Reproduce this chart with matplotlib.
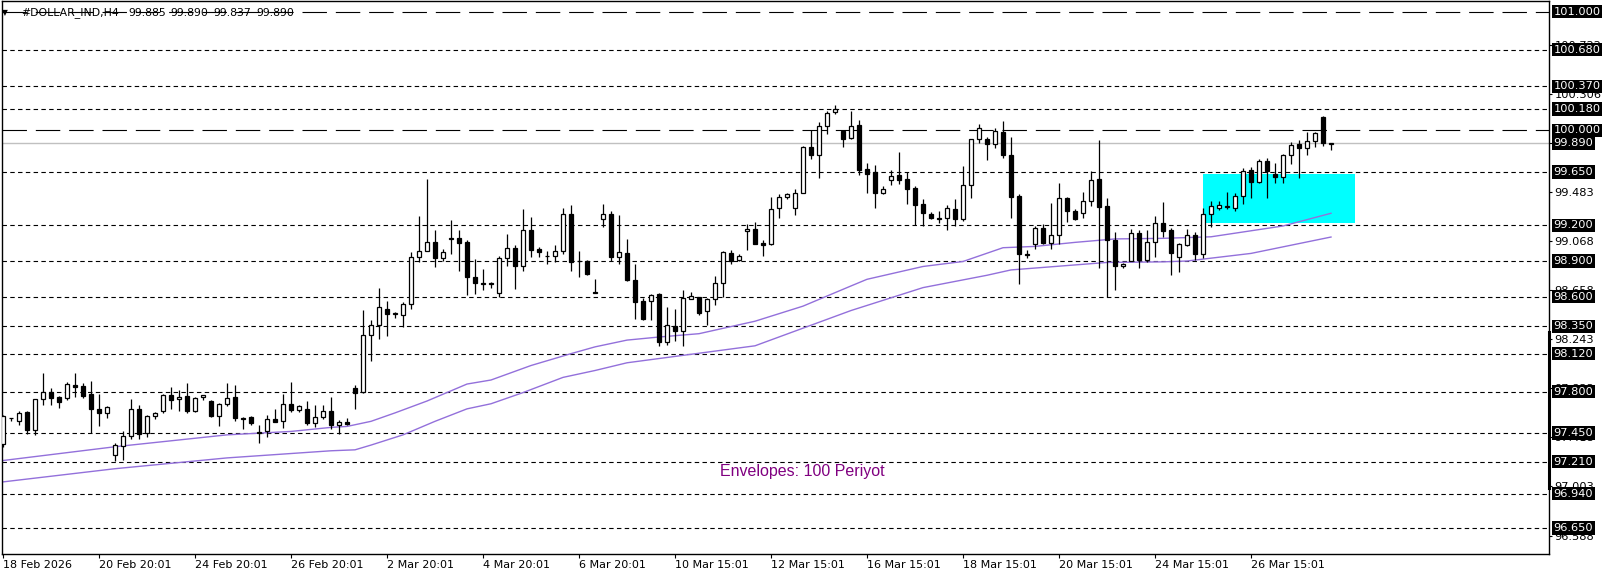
import numpy as np
import matplotlib.pyplot as plt
from matplotlib.patches import Rectangle

# =============================================================================
# DATA (H4 candles)
# =============================================================================
opens = [97.359, 97.579, 97.556, 97.627, 97.476, 97.735, 97.795, 97.755, 97.750, 97.858,
         97.849, 97.778, 97.658, 97.621, 97.265, 97.342, 97.427, 97.650, 97.450, 97.598,
         97.641, 97.770, 97.735, 97.761, 97.641, 97.752, 97.721, 97.593, 97.693, 97.752,
         97.581, 97.584, 97.457, 97.470, 97.573, 97.556, 97.695, 97.644, 97.650, 97.536,
         97.590, 97.633, 97.521, 97.547, 97.829, 97.795, 98.280, 98.364, 98.498, 98.453,
         98.448, 98.540, 98.932, 98.986, 99.061, 98.924, 99.087, 99.095, 99.064, 98.767,
         98.712, 98.719, 98.633, 98.927, 99.011, 98.857, 99.162, 99.002, 98.942, 98.941,
         98.986, 99.300, 98.904, 98.904, 98.636, 99.255, 99.300, 98.938, 98.970, 98.738,
         98.560, 98.560, 98.619, 98.217, 98.353, 98.313, 98.580, 98.594, 98.478, 98.577,
         98.712, 98.967, 98.905, 99.153, 99.170, 99.052, 99.043, 99.349, 99.442, 99.349,
         99.476, 99.858, 99.790, 100.033, 100.157, 99.996, 99.934, 100.044, 99.674, 99.651,
         99.476, 99.586, 99.623, 99.589, 99.513, 99.377, 99.300, 99.264, 99.264, 99.340,
         99.252, 99.544, 99.925, 99.925, 99.883, 99.985, 99.790, 99.450, 98.955, 99.043,
         99.179, 99.052, 99.120, 99.433, 99.323, 99.306, 99.408, 99.589, 99.360, 99.080,
         98.854, 98.899, 99.139, 98.907, 99.063, 99.217, 99.161, 98.935, 99.034, 99.116,
         98.961, 99.293, 99.348, 99.357, 99.348, 99.448, 99.670, 99.569, 99.746, 99.631,
         99.611, 99.792, 99.887, 99.848, 99.910, 100.113, 99.885]
highs = [97.600, 97.581, 97.641, 97.633, 97.735, 97.958, 97.832, 97.761, 97.878, 97.958,
         97.872, 97.892, 97.778, 97.678, 97.367, 97.465, 97.735, 97.687, 97.607, 97.627,
         97.784, 97.841, 97.812, 97.872, 97.755, 97.775, 97.727, 97.707, 97.872, 97.852,
         97.587, 97.593, 97.522, 97.607, 97.658, 97.778, 97.881, 97.684, 97.721, 97.687,
         97.687, 97.755, 97.558, 97.581, 97.858, 98.484, 98.400, 98.669, 98.565, 98.470,
         98.554, 98.980, 99.283, 99.594, 99.165, 99.000, 99.246, 99.165, 99.078, 98.913,
         98.829, 98.725, 98.944, 99.129, 99.039, 99.339, 99.274, 99.016, 98.983, 99.039,
         99.350, 99.370, 98.988, 98.910, 98.745, 99.383, 99.317, 99.284, 99.085, 98.874,
         98.588, 98.625, 98.630, 98.512, 98.492, 98.656, 98.636, 98.600, 98.591, 98.775,
         98.984, 98.992, 98.958, 99.213, 99.227, 99.080, 99.436, 99.462, 99.473, 99.510,
         99.869, 100.005, 100.067, 100.160, 100.217, 100.005, 100.160, 100.090, 99.722, 99.708,
         99.530, 99.663, 99.818, 99.646, 99.532, 99.419, 99.309, 99.323, 99.368, 99.419,
         99.702, 99.931, 100.050, 99.942, 100.024, 100.081, 99.945, 99.462, 98.995, 99.193,
         99.213, 99.391, 99.561, 99.440, 99.340, 99.484, 99.654, 99.920, 99.431, 99.148,
         98.882, 99.168, 99.162, 99.165, 99.275, 99.397, 99.175, 99.054, 99.169, 99.144,
         99.343, 99.405, 99.402, 99.482, 99.470, 99.682, 99.690, 99.755, 99.766, 99.727,
         99.803, 99.904, 99.921, 99.989, 99.983, 100.124, 99.890]
lows = [97.336, 97.556, 97.521, 97.447, 97.436, 97.684, 97.687, 97.664, 97.730, 97.758,
        97.750, 97.450, 97.510, 97.579, 97.220, 97.228, 97.402, 97.402, 97.419, 97.570,
        97.621, 97.655, 97.641, 97.618, 97.627, 97.732, 97.584, 97.510, 97.678, 97.550,
        97.487, 97.522, 97.365, 97.416, 97.544, 97.493, 97.630, 97.630, 97.522, 97.502,
        97.570, 97.487, 97.442, 97.521, 97.658, 97.787, 98.058, 98.243, 98.268, 98.420,
        98.344, 98.495, 98.890, 98.986, 98.848, 98.904, 98.960, 98.815, 98.613, 98.621,
        98.655, 98.669, 98.596, 98.854, 98.663, 98.815, 98.938, 98.938, 98.874, 98.890,
        98.958, 98.815, 98.764, 98.786, 98.630, 99.185, 98.896, 98.874, 98.730, 98.413,
        98.401, 98.401, 98.186, 98.195, 98.229, 98.186, 98.577, 98.444, 98.362, 98.531,
        98.593, 98.874, 98.902, 98.990, 99.040, 98.941, 99.032, 99.264, 99.425, 99.286,
        99.476, 99.756, 99.595, 99.968, 100.137, 99.863, 99.925, 99.623, 99.473, 99.346,
        99.467, 99.544, 99.552, 99.380, 99.207, 99.199, 99.250, 99.216, 99.159, 99.199,
        99.241, 99.431, 99.897, 99.747, 99.855, 99.764, 99.261, 98.704, 98.924, 98.999,
        99.040, 98.999, 99.046, 99.227, 99.244, 99.264, 99.360, 98.845, 98.594, 98.653,
        98.837, 98.899, 98.842, 98.888, 98.930, 99.104, 98.783, 98.809, 99.026, 98.907,
        98.927, 99.188, 99.331, 99.337, 99.320, 99.383, 99.434, 99.555, 99.434, 99.561,
        99.561, 99.721, 99.603, 99.789, 99.856, 99.865, 99.837]
closes = [97.593, 97.581, 97.624, 97.476, 97.735, 97.795, 97.750, 97.715, 97.864, 97.835,
          97.767, 97.658, 97.621, 97.670, 97.350, 97.430, 97.658, 97.447, 97.593, 97.618,
          97.770, 97.727, 97.752, 97.641, 97.744, 97.770, 97.598, 97.693, 97.744, 97.581,
          97.570, 97.536, 97.453, 97.573, 97.544, 97.693, 97.644, 97.675, 97.533, 97.590,
          97.633, 97.519, 97.547, 97.527, 97.792, 98.274, 98.364, 98.509, 98.453, 98.459,
          98.540, 98.935, 98.988, 99.061, 98.924, 98.977, 99.095, 99.050, 98.764, 98.714,
          98.706, 98.708, 98.927, 99.011, 98.857, 99.162, 98.990, 98.974, 98.940, 98.988,
          99.300, 98.893, 98.896, 98.789, 98.632, 99.300, 98.938, 98.975, 98.738, 98.558,
          98.413, 98.616, 98.217, 98.361, 98.313, 98.588, 98.608, 98.463, 98.580, 98.712,
          98.975, 98.902, 98.941, 99.170, 99.043, 99.032, 99.340, 99.439, 99.467, 99.476,
          99.858, 99.790, 100.033, 100.146, 100.183, 99.925, 100.036, 99.668, 99.634, 99.473,
          99.510, 99.620, 99.586, 99.507, 99.371, 99.306, 99.261, 99.258, 99.349, 99.255,
          99.544, 99.925, 100.016, 99.883, 99.996, 99.795, 99.442, 98.958, 98.950, 99.179,
          99.049, 99.120, 99.433, 99.320, 99.252, 99.408, 99.586, 99.354, 99.077, 98.854,
          98.876, 99.139, 98.907, 99.063, 99.216, 99.155, 98.969, 99.040, 99.116, 98.961,
          99.293, 99.360, 99.373, 99.363, 99.450, 99.662, 99.569, 99.746, 99.662, 99.611,
          99.792, 99.876, 99.848, 99.910, 99.977, 99.893, 99.890]

# Envelopes(100) lines, read at a few bars
env_upper_bar = [0, 14, 28, 36, 41, 43, 46, 49, 53, 58, 61, 66, 71, 74, 78, 82, 87, 94,
                 100, 106, 108, 115, 120, 125, 129, 134, 139, 145, 151, 160, 166]
env_upper = [97.220, 97.336, 97.436, 97.465, 97.499, 97.507, 97.550, 97.621, 97.721, 97.864,
             97.898, 98.020, 98.120, 98.177, 98.234, 98.260, 98.288, 98.393, 98.520, 98.690,
             98.746, 98.854, 98.896, 99.012, 99.023, 99.057, 99.086, 99.091, 99.104, 99.195,
             99.302]
env_lower_bar = [0, 14, 28, 41, 44, 46, 50, 54, 58, 61, 65, 70, 74, 78, 94, 106, 115, 123,
                 126, 138, 145, 148, 156, 166]
env_lower = [97.040, 97.151, 97.242, 97.302, 97.310, 97.350, 97.436, 97.550, 97.655, 97.698,
             97.792, 97.920, 97.978, 98.043, 98.186, 98.483, 98.676, 98.780, 98.825, 98.888,
             98.893, 98.900, 98.964, 99.102]

# horizontal levels
dash_levels = [101.000, 100.000]
dot_levels = [100.680, 100.370, 100.180, 99.650, 99.200, 98.900, 98.600, 98.350, 98.120,
              97.800, 97.450, 97.210, 96.940, 96.650]
bid_price = 99.890

# price scale ticks
price_ticks = [100.722, 100.306, 99.894, 99.483, 99.068, 98.658, 98.243, 97.833, 97.418,
               97.003, 96.588]

# time axis
time_tick_bars = [0, 12, 24, 36, 48, 60, 72, 84, 96, 108, 120, 132, 144, 156]
time_labels = ['18 Feb 2026', '20 Feb 20:01', '24 Feb 20:01', '26 Feb 20:01', '2 Mar 20:01',
               '4 Mar 20:01', '6 Mar 20:01', '10 Mar 15:01', '12 Mar 15:01', '16 Mar 15:01',
               '18 Mar 15:01', '20 Mar 15:01', '24 Mar 15:01', '26 Mar 15:01']

# cyan zone (bars, prices)
zone_bars = [150.0, 169.0]
zone_prices = [99.220, 99.635]

title_name = '#DOLLAR_IND,H4'
title_ohlc = ['99.885', '99.890', '99.837', '99.890']

# =============================================================================
# PLOT
# =============================================================================
W, H = 1606, 577
fig = plt.figure(figsize=(W / 100, H / 100), dpi=100)
fig.patch.set_facecolor('white')
ax_l, ax_r, ax_t, ax_b = 2.5, 1549.0, 1.0, 553.5
ax = fig.add_axes([ax_l / W, (H - ax_b) / H, (ax_r - ax_l) / W, (ax_b - ax_t) / H])
ax.set_facecolor('white')
ax.set_xlim(-0.0625, 193.25)
ax.set_ylim(96.437, 101.0896)

o = np.array(opens); h = np.array(highs); l = np.array(lows); c = np.array(closes)
x = np.arange(len(o))
up = c >= o

# levels
for lv in dash_levels:
    ax.axhline(lv, color='black', lw=0.8, ls=(0, (22, 8)), zorder=2)
for lv in dot_levels:
    ax.axhline(lv, color='black', lw=0.8, ls=(0, (4, 3)), zorder=2)
ax.axhline(bid_price, color='#c0c0c0', lw=1.0, zorder=1.5)

# zone
ax.add_patch(Rectangle((zone_bars[0], zone_prices[0]), zone_bars[1] - zone_bars[0],
                       zone_prices[1] - zone_prices[0], facecolor='#00ffff', edgecolor='none', zorder=1))

# envelopes
ax.plot(env_upper_bar, env_upper, color='#9370db', lw=1.0, zorder=2.2)
ax.plot(env_lower_bar, env_lower, color='#9370db', lw=1.0, zorder=2.2)
ax.text(89.6, 97.124, 'Envelopes: 100 Periyot', color='#800080', fontsize=11.5,
        family='Liberation Sans', va='center', ha='left', zorder=3)

# candles
ax.vlines(x, l, h, color='black', lw=0.9, zorder=3)
ax.bar(x[up], (c - o)[up], bottom=o[up], width=0.55, facecolor='white', edgecolor='black',
       linewidth=0.9, zorder=4)
ax.bar(x[~up], (o - c)[~up], bottom=c[~up], width=0.55, facecolor='black', edgecolor='black',
       linewidth=0.9, zorder=4)

# axes look
for s in ax.spines.values():
    s.set_color('black')
    s.set_linewidth(1.0)
ax.yaxis.tick_right()
ax.set_yticks(price_ticks)
ax.set_yticklabels([f'{v:.3f}' for v in price_ticks])
ax.tick_params(axis='y', length=2.5, width=0.8, pad=1.5, labelsize=8.2, colors='black')
ax.set_xticks(time_tick_bars)
ax.set_xticklabels(time_labels, ha='left')
ax.tick_params(axis='x', length=3, width=0.8, pad=2, labelsize=8.0, colors='black')

# thick marker on price scale
ax.plot([1, 1], [98.30, 96.99], transform=ax.get_yaxis_transform(), color='black',
        lw=2.2, clip_on=False, zorder=5)

# level labels (black boxes)
off = 1 + 4.5 / (ax_r - ax_l)
for lv in dash_levels + dot_levels + [bid_price]:
    ax.text(off, lv, f'{lv:.3f}', transform=ax.get_yaxis_transform(), color='white',
            fontsize=8.2, va='center', ha='left', clip_on=False, zorder=6,
            bbox=dict(boxstyle='square,pad=0.15', facecolor='black', edgecolor='none'))

# title
fig.text(4.5 / W, 1 - 12.5 / H, '\u25bc', fontsize=5.5, va='center', ha='center', color='black')
fig.text(21 / W, 1 - 12.5 / H, title_name, fontsize=7.8, va='center', ha='left', color='black')
for k, t in enumerate(title_ohlc):
    fig.text((128 + 42.7 * k) / W, 1 - 12.5 / H, t, fontsize=7.8, va='center', ha='left',
             color='black')

fig.savefig('out.png', dpi=100, facecolor='white')
